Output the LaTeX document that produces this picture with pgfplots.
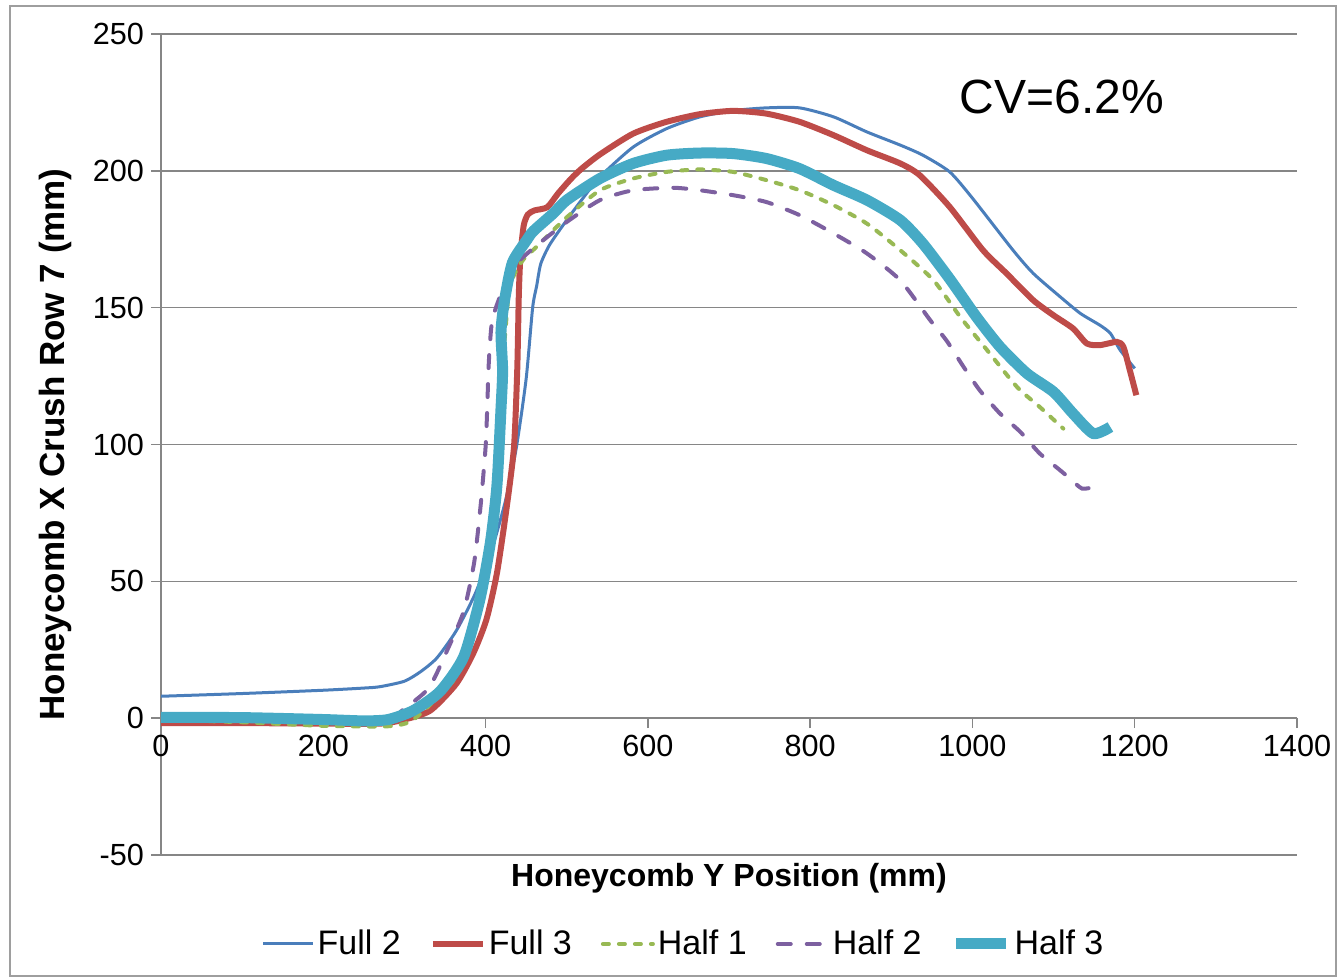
\documentclass[border=0pt]{standalone}
\usepackage{fontspec}
\setmainfont{Liberation Sans}
\usepackage{pgfplots}
\pgfplotsset{compat=1.18}
\definecolor{cFullTwo}{RGB}{74,126,187}
\definecolor{cFullThree}{RGB}{190,75,72}
\definecolor{cHalfOne}{RGB}{152,185,84}
\definecolor{cHalfTwo}{RGB}{125,96,160}
\definecolor{cHalfThree}{RGB}{70,170,197}
\definecolor{gridgray}{RGB}{134,134,134}
\begin{document}
\begin{tikzpicture}
\path[use as bounding box] (0,0) rectangle (668.5pt,488.5pt);
\draw[gridgray!80, line width=0.6pt] (5pt,0.5pt) rectangle (668pt,485.5pt);
\begin{axis}[
 at={(80.5pt,61pt)}, anchor=south west,
 width=568pt, height=410.5pt, scale only axis,
 xmin=0, xmax=1400, ymin=-50, ymax=250,
 xtick={0,200,...,1400}, ytick={-50,0,...,250},
 axis x line=middle, axis y line=left,
 hide obscured x ticks=false, hide obscured y ticks=false,
 axis line style={-, draw=gridgray, line width=0.7pt},
 tick style={draw=gridgray, line width=0.7pt},
 tick align=outside, major tick length=5pt,
 ymajorgrids, grid style={draw=gridgray, line width=0.7pt},
 ticklabel style={font=\fontsize{15.3}{18}\selectfont},
 /pgf/number format/assume math mode=true,
 /pgf/number format/set thousands separator={},
 xlabel={Honeycomb Y Position (mm)},
 ylabel={Honeycomb X Crush Row 7 (mm)},
 every axis x label/.style={at={(axis description cs:0.5,-0.028)}, anchor=center, font=\fontsize{16}{19}\selectfont\bfseries},
 every axis y label/.style={at={(axis description cs:-0.093,0.5)}, anchor=center, rotate=90, font=\fontsize{17.5}{20}\selectfont\bfseries},
 legend columns=5,
 legend style={at={(axis description cs:0.4604,-0.1084)}, anchor=center, draw=none, fill=none,
   font=\fontsize{17}{20}\selectfont, nodes={inner xsep=1.5pt},
   /tikz/every even column/.append style={column sep=13pt}},
 legend image code/.code={\draw[#1] plot coordinates {(0pt,0pt) (12.5pt,0pt) (25pt,0pt)};},
]
\addplot[cFullTwo, line width=1.5pt, smooth, tension=0.4] coordinates {
(0,8) (100,9) (200,10.2) (250,11) (270,11.5) (300,13.5) (320,17) (340,22) (364,32) (388,46) (409,63) (425,80) (438,99) (450,124) (458,150) (463,158) (468,166) (479,173) (500,182) (520,190) (541,197.8) (582,208.7) (623,215.4) (664,219.7) (705,222) (746,223) (787,223) (829,219.7) (870,214.2) (911,209.4) (939,205.7) (972,199.6) (1000,190) (1050,171) (1075,162.5) (1108,154) (1133,147.9) (1157,143.6) (1170,140.6) (1182,134.5) (1200,127.8)};
\addlegendentry{Full 2}
\addplot[cFullThree, line width=3pt, smooth, tension=0.4] coordinates {
(0,-1.8) (100,-1.8) (200,-2) (270,-2) (300,-0.5) (332,2.8) (364,12.6) (385,23.8) (401,36) (414,53) (426,77) (435,99) (439,127) (441,155) (443,169) (447,180) (452,184) (460,185.5) (476,186.7) (489,191.6) (505,197) (518,200.7) (541,206) (582,213.6) (623,217.9) (664,220.7) (705,221.9) (746,220.9) (787,217.9) (829,213) (870,207.5) (911,202.7) (935,198.4) (972,186.8) (1013,171) (1042,162.5) (1075,152.7) (1100,147.2) (1124,142.4) (1141,136.9) (1157,136.3) (1178,137.5) (1186,135.7) (1194,127.1) (1202,118)};
\addlegendentry{Full 3}
\addplot[cHalfOne, line width=2pt, line cap=round, dash pattern=on 3pt off 5pt, smooth, tension=0.4] coordinates {
(0,-0.5) (100,-1.5) (200,-2.8) (278,-3) (307,-1.3) (332,5) (364,15.4) (388,36) (401,57) (409,78) (414,100) (419,125) (424,140) (430,158) (445,167) (462,172) (500,183) (541,192.9) (582,197.2) (623,199.6) (664,200.5) (705,199.6) (746,196.6) (787,192.9) (829,187.4) (870,180.7) (911,171) (952,160) (985,146.6) (1018,134.5) (1055,121) (1083,113.7) (1112,105.8)};
\addlegendentry{Half 1}
\addplot[cHalfTwo, line width=2pt, line cap=round, dash pattern=on 6.5pt off 8pt, smooth, tension=0.4] coordinates {
(0,0) (100,-0.5) (200,-1.5) (260,-2) (285,0) (298,3) (330,11) (353,25) (373,39) (386,57) (394,78) (400,99) (402,113) (404,130) (408,145) (419,155) (435,165) (460,172) (500,181.3) (541,189.3) (582,192.9) (631,193.8) (664,192.9) (705,191.1) (746,188.6) (787,183.8) (829,177.1) (870,169.8) (911,160) (948,145.4) (968,138) (989,128.4) (1009,119.8) (1034,111.3) (1059,104.6) (1083,96.7) (1108,90.6) (1120,87.6) (1135,83.9) (1151,84.5)};
\addlegendentry{Half 2}
\addplot[cHalfThree, line width=5.5pt, smooth, tension=0.4] coordinates {
(0,0.3) (100,0.2) (200,-0.5) (250,-1) (280,-0.5) (311,2.8) (344,9.8) (373,22.4) (393,43.4) (406,64.3) (414,85) (419,113) (421,127) (419,141) (423,152) (433,166.4) (451,174.8) (459,178) (484,184.6) (500,189.3) (541,197.2) (582,202.7) (623,205.7) (664,206.5) (705,206.3) (746,204.5) (787,200.8) (829,194.7) (870,189.3) (911,182) (939,173.4) (972,160.5) (1005,146.6) (1034,135.7) (1067,126) (1100,119.2) (1124,111.3) (1149,104) (1170,106.4)};
\addlegendentry{Half 3}
\node[font=\fontsize{24}{28}\selectfont] at (axis cs:1110,227) {CV=6.2\%};
\end{axis}
\end{tikzpicture}
\end{document}
